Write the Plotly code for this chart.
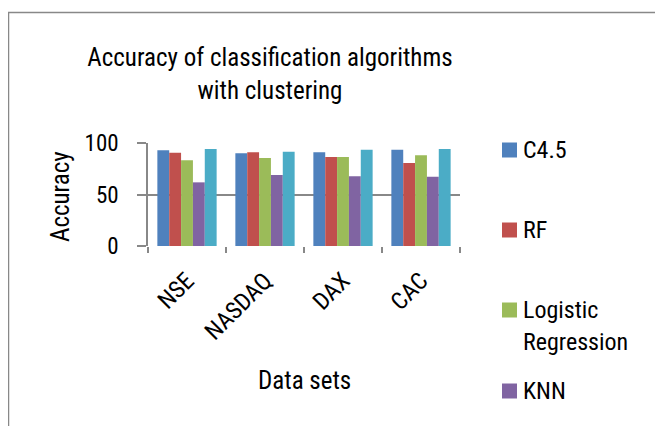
import plotly.graph_objects as go

categories = ["NSE", "NASDAQ", "DAX", "CAC"]
series_names = ["C4.5", "RF", "Logistic Regression", "KNN", "SVM"]
c45 = [92.9, 90.0, 90.9, 93.5]
rf = [90.6, 90.9, 86.4, 80.6]
logreg = [83.2, 85.4, 86.4, 88.0]
knn = [61.8, 68.9, 67.6, 67.3]
svm = [94.2, 91.6, 93.5, 94.2]
colors = ["#4F81BD", "#C0504D", "#9BBB59", "#8064A2", "#4BACC6"]
legend_lines = [["C4.5"], ["RF"], ["Logistic", "Regression"], ["KNN"]]

FONT = "Roboto Condensed, Liberation Sans Narrow, Arial Narrow, sans-serif"

fig = go.Figure()
for name, vals, col in zip(series_names, [c45, rf, logreg, knn, svm], colors):
    fig.add_trace(go.Bar(x=categories, y=vals, name=name, marker_color=col,
                         marker_line_width=0, showlegend=False))

# page has an 8px body margin: work in reference pixels and shift by OFF
OFF = 8
W, H = 663 - OFF, 426 - OFF
L, T, R, B = 148 - OFF, 143 - OFF, 460 - OFF, 246 - OFF
pw, ph = R - L, B - T


def px(x):
    return (x - OFF - L) / pw


def py(y):
    return (B - (y - OFF)) / ph


shapes = [
    dict(type="line", xref="paper", yref="paper", x0=px(8.5), x1=px(8.5), y0=py(12), y1=py(440),
         line=dict(color="#888888", width=1.5)),
    dict(type="line", xref="paper", yref="paper", x0=px(8), x1=px(680), y0=py(12.5), y1=py(12.5),
         line=dict(color="#888888", width=1.5)),
]
annotations = [
    dict(text="Accuracy", textangle=-90, xref="paper", yref="paper", x=px(60), y=py(197),
         xanchor="center", yanchor="middle", showarrow=False, font=dict(size=25, family=FONT)),
    dict(text="Data sets", xref="paper", yref="paper", x=px(304), y=py(380),
         xanchor="center", yanchor="middle", showarrow=False, font=dict(size=25, family=FONT)),
]

# legend (first four series, as in the reference)
legend_y = [150, 230, 310, 391]
for lines, col, yc in zip(legend_lines, colors, legend_y):
    shapes.append(dict(type="rect", xref="paper", yref="paper", x0=px(502), x1=px(517),
                       y0=py(yc - 7.5), y1=py(yc + 7.5), fillcolor=col, line=dict(width=0)))
    for i, line in enumerate(lines):
        annotations.append(dict(text=line, xref="paper", yref="paper", x=px(521), y=py(yc + 32 * i),
                                xanchor="left", yanchor="middle", showarrow=False,
                                font=dict(size=24, family=FONT)))

fig.update_layout(
    width=W, height=H,
    margin=dict(l=L, r=W - R, t=T, b=H - B, autoexpand=False),
    paper_bgcolor="white", plot_bgcolor="white",
    font=dict(family=FONT, color="black"),
    barmode="group", bargap=0.24, bargroupgap=0,
    title=dict(text="Accuracy of classification algorithms<br>with clustering",
               x=px(270), xanchor="center", y=1 - (66 - OFF) / H, yanchor="middle",
               xref="paper", font=dict(size=25, family=FONT)),
    showlegend=False,
    shapes=shapes,
    annotations=annotations,
)
fig.update_xaxes(showline=False, ticks="outside", tickson="boundaries", ticklen=6,
                 tickcolor="#888888", tickwidth=1.5, tickangle=-45,
                 tickfont=dict(size=24, family=FONT), automargin=False, ticklabelstandoff=15)
fig.update_yaxes(range=[0, 100], tickvals=[0, 50, 100], showgrid=True, gridcolor="#888888",
                 gridwidth=1.5, showline=True, linecolor="#888888", linewidth=1.5,
                 ticks="outside", ticklen=9, tickcolor="#888888", tickwidth=1.5, zeroline=False,
                 tickfont=dict(size=23, family=FONT), automargin=False, ticklabelstandoff=14)

fig.write_html("out.html")
